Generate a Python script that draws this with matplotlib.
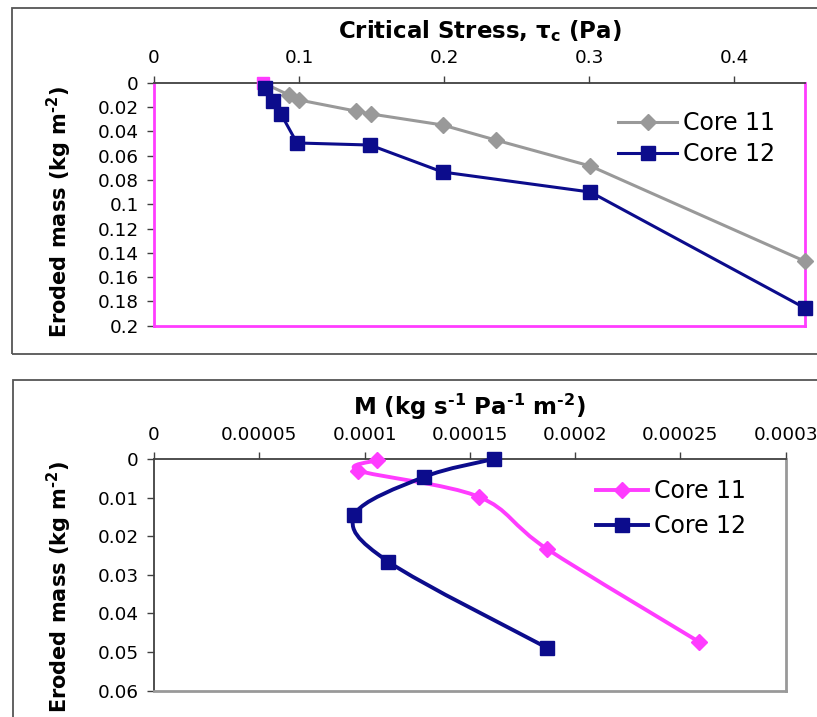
import matplotlib
matplotlib.use("Agg")
import matplotlib.pyplot as plt
from matplotlib.path import Path
from matplotlib.patches import PathPatch, Rectangle
from matplotlib.lines import Line2D
import numpy as np

plt.rcParams['font.family'] = ['DejaVu Sans']
plt.rcParams['mathtext.fontset'] = 'custom'
plt.rcParams['mathtext.rm'] = 'DejaVu Sans:bold'
plt.rcParams['mathtext.bf'] = 'DejaVu Sans:bold'
plt.rcParams['mathtext.it'] = 'DejaVu Sans:bold'
plt.rcParams['mathtext.default'] = 'bf'

# ---------------- data ----------------
# top panel: critical stress vs eroded mass
tau_core11 = [0.075, 0.093, 0.100, 0.139, 0.150, 0.199, 0.236, 0.301, 0.449]
mass_core11 = [0.0, 0.0101, 0.0142, 0.0233, 0.0258, 0.0348, 0.0473, 0.0686, 0.147]
tau_core12 = [0.0766, 0.082, 0.0876, 0.0986, 0.149, 0.199, 0.301, 0.449]
mass_core12 = [0.0044, 0.015, 0.0258, 0.0496, 0.0513, 0.0735, 0.090, 0.1855]

# bottom panel: erosion rate constant M vs eroded mass
M_core11 = [1.06e-4, 9.71e-5, 1.543e-4, 1.867e-4, 2.59e-4]
Mmass_core11 = [0.0003, 0.003, 0.0098, 0.0233, 0.0474]
M_core12 = [1.613e-4, 1.28e-4, 9.52e-5, 1.113e-4, 1.867e-4]
Mmass_core12 = [0.0, 0.0047, 0.0145, 0.0266, 0.0489]

series_labels = ["Core 11", "Core 12"]

top_xticks = [0, 0.1, 0.2, 0.3, 0.4]
top_xticklabels = ["0", "0.1", "0.2", "0.3", "0.4"]
top_yticks = [0, 0.02, 0.04, 0.06, 0.08, 0.1, 0.12, 0.14, 0.16, 0.18, 0.2]
top_yticklabels = ["0", "0.02", "0.04", "0.06", "0.08", "0.1", "0.12", "0.14", "0.16", "0.18", "0.2"]
bot_xticks = [0, 0.00005, 0.0001, 0.00015, 0.0002, 0.00025, 0.0003]
bot_xticklabels = ["0", "0.00005", "0.0001", "0.00015", "0.0002", "0.00025", "0.0003"]
bot_yticks = [0, 0.01, 0.02, 0.03, 0.04, 0.05, 0.06]
bot_yticklabels = ["0", "0.01", "0.02", "0.03", "0.04", "0.05", "0.06"]

# ---------------- style ----------------
W, H = 817, 717
GRAY = '#999999'
NAVY = '#0C0C8C'
PINK = '#FF3CFF'
AXC = '#404040'
TICK_FS = 13.2
TITLE_FS = 16.5
YLAB_FS = 15
LEG_FS = 17
HY = '\u2010'  # hyphen used for superscript minus

fig = plt.figure(figsize=(W / 100, H / 100), dpi=100)

def fbox(l, t, r, b):
    return [l / W, 1 - b / H, (r - l) / W, (b - t) / H]

# outer chart frames
fig.patches.append(Rectangle((12 / W, 1 - 354 / H), 900 / W, 346 / H, transform=fig.transFigure,
                             fill=False, edgecolor='#555555', linewidth=1.3))
fig.patches.append(Rectangle((13 / W, -0.1), 900 / W, (717 - 380) / H + 0.1, transform=fig.transFigure,
                             fill=False, edgecolor='#555555', linewidth=1.3))

ax1 = fig.add_axes(fbox(154, 82.7, 805, 325.7))
ax2 = fig.add_axes(fbox(154, 459, 785.7, 690.7))

for ax in (ax1, ax2):
    ax.xaxis.tick_top()
    ax.xaxis.set_label_position('top')
    ax.tick_params(axis='both', direction='out', length=5, width=1, color=AXC,
                   labelsize=TICK_FS, pad=6)

# ---------- top panel ----------
ax1.set_xlim(0, 0.449)
ax1.set_ylim(0.2, 0)
ax1.set_xticks(top_xticks, top_xticklabels)
ax1.set_yticks(top_yticks, top_yticklabels)
for s in ('left', 'right', 'bottom'):
    ax1.spines[s].set_color(PINK)
    ax1.spines[s].set_linewidth(2)
ax1.spines['top'].set_color(AXC)
ax1.spines['top'].set_linewidth(1.3)

ax1.plot(tau_core11, mass_core11, color=GRAY, lw=2.2, marker='D', ms=8,
         markevery=slice(1, None), clip_on=False, zorder=3)
ax1.plot(tau_core11[:1], mass_core11[:1], ls='none', marker='s', ms=8.5, color=PINK,
         clip_on=False, zorder=3.5)
ax1.plot(tau_core12, mass_core12, color=NAVY, lw=2.2, marker='s', ms=10,
         clip_on=False, zorder=4)

ax1.set_xlabel('Critical Stress, τ$_{c}$ (Pa)', fontsize=TITLE_FS, fontweight='bold', labelpad=8)
ax1.set_ylabel('Eroded mass (kg m$^{' + HY + '2}$)', fontsize=YLAB_FS, fontweight='bold')
ax1.yaxis.set_label_coords(-80 / 651, 0.47)

h11 = Line2D([], [], color=GRAY, lw=2.2, marker='D', ms=8)
h12 = Line2D([], [], color=NAVY, lw=2.2, marker='s', ms=10)
ax1.legend([h11, h12], series_labels, loc='center left', frameon=False,
           bbox_to_anchor=(618 / W, 1 - 138.5 / H), bbox_transform=fig.transFigure,
           fontsize=LEG_FS, handlelength=2.5, handletextpad=0.25, labelspacing=0.3,
           borderpad=0, borderaxespad=0)

# ---------- bottom panel ----------
def smooth_path(ax, xs, ys):
    pts = ax.transData.transform(np.column_stack([xs, ys]))
    verts = [pts[0]]
    codes = [Path.MOVETO]
    n = len(pts)
    for i in range(n - 1):
        p0 = pts[i - 1] if i > 0 else pts[i]
        p1 = pts[i]
        p2 = pts[i + 1]
        p3 = pts[i + 2] if i + 2 < n else pts[i + 1]
        c1 = p1 + (p2 - p0) / 6.0
        c2 = p2 - (p3 - p1) / 6.0
        verts += [c1, c2, p2]
        codes += [Path.CURVE4] * 3
    vd = ax.transData.inverted().transform(np.array(verts))
    return Path(vd, codes)

ax2.set_xlim(0, 0.0003)
ax2.set_ylim(0.06, 0)
ax2.set_xticks(bot_xticks, bot_xticklabels)
ax2.set_yticks(bot_yticks, bot_yticklabels)
ax2.spines['top'].set_color(AXC)
ax2.spines['top'].set_linewidth(1.3)
ax2.spines['left'].set_color(AXC)
ax2.spines['left'].set_linewidth(1.3)
for s in ('right', 'bottom'):
    ax2.spines[s].set_color(GRAY)
    ax2.spines[s].set_linewidth(2)

p11 = PathPatch(smooth_path(ax2, M_core11, Mmass_core11), facecolor='none', edgecolor=PINK,
                lw=2.8, clip_on=False, zorder=3, capstyle='round', joinstyle='round')
ax2.add_patch(p11)
ax2.plot(M_core11, Mmass_core11, ls='none', marker='D', ms=8.5, color=PINK, clip_on=False, zorder=3.5)
p12 = PathPatch(smooth_path(ax2, M_core12, Mmass_core12), facecolor='none', edgecolor=NAVY,
                lw=2.8, clip_on=False, zorder=4, capstyle='round', joinstyle='round')
ax2.add_patch(p12)
ax2.plot(M_core12, Mmass_core12, ls='none', marker='s', ms=10, color=NAVY, clip_on=False, zorder=4.5)

ax2.set_xlabel('M (kg s$^{' + HY + '1}$ Pa$^{' + HY + '1}$ m$^{' + HY + '2}$)',
               fontsize=TITLE_FS, fontweight='bold', labelpad=8)
ax2.set_ylabel('Eroded mass (kg m$^{' + HY + '2}$)', fontsize=YLAB_FS, fontweight='bold')
ax2.yaxis.set_label_coords(-80 / 631.7, 0.45)

g11 = Line2D([], [], color=PINK, lw=2.8, marker='D', ms=8.5)
g12 = Line2D([], [], color=NAVY, lw=2.8, marker='s', ms=10)
ax2.legend([g11, g12], series_labels, loc='center left', frameon=False,
           bbox_to_anchor=(596 / W, 1 - 508.5 / H), bbox_transform=fig.transFigure,
           fontsize=LEG_FS, handlelength=2.2, handletextpad=0.25, labelspacing=0.45,
           borderpad=0, borderaxespad=0)

fig.savefig('out.png', dpi=100)
